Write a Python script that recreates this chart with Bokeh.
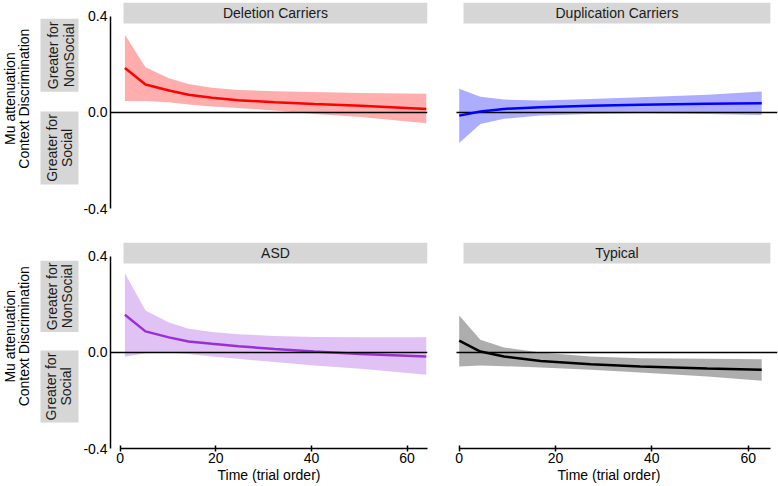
import numpy as np
from bokeh.plotting import figure
from bokeh.layouts import row, column
from bokeh.models import Range1d, FixedTicker, PrintfTickFormatter, Span
from bokeh.core.properties import value
from bokeh.embed import file_html
from bokeh.resources import INLINE

FONT = "Liberation Sans"

# ---------------- data ----------------
panel_titles = ["Deletion Carriers", "Duplication Carriers", "ASD", "Typical"]

del_x = [1, 5.3, 10.2, 14.3, 19.2, 24.7, 32.3, 40.6, 50.3, 64]
del_y = [0.185, 0.117, 0.092, 0.074, 0.061, 0.051, 0.043, 0.035, 0.028, 0.015]
del_hi = [0.324, 0.189, 0.143, 0.119, 0.103, 0.094, 0.089, 0.085, 0.081, 0.078]
del_lo = [0.048, 0.048, 0.043, 0.033, 0.025, 0.019, 0.008, -0.006, -0.019, -0.045]

dup_x = [0, 4.4, 9.3, 16.9, 27.3, 37.6, 51.5, 62.8]
dup_y = [-0.013, 0.004, 0.015, 0.022, 0.028, 0.032, 0.036, 0.039]
dup_hi = [0.099, 0.066, 0.054, 0.050, 0.056, 0.064, 0.074, 0.087]
dup_lo = [-0.127, -0.048, -0.026, -0.013, -0.006, -0.003, -0.006, -0.010]

asd_x = [1, 5.3, 10.2, 14.3, 19.2, 24.7, 32.3, 40.6, 50.3, 64]
asd_y = [0.157, 0.088, 0.063, 0.046, 0.036, 0.026, 0.015, 0.004, -0.006, -0.017]
asd_hi = [0.330, 0.175, 0.125, 0.099, 0.085, 0.076, 0.069, 0.065, 0.064, 0.064]
asd_lo = [-0.018, -0.003, 0.000, -0.006, -0.017, -0.026, -0.040, -0.054, -0.068, -0.093]

typ_x = [0, 4.4, 9.3, 16.9, 27.3, 37.6, 51.5, 62.8]
typ_y = [0.049, 0.004, -0.017, -0.035, -0.049, -0.058, -0.067, -0.072]
typ_hi = [0.154, 0.053, 0.021, 0.000, -0.017, -0.024, -0.026, -0.028]
typ_lo = [-0.058, -0.054, -0.057, -0.063, -0.072, -0.083, -0.100, -0.118]

line_colors = ["#ff0000", "#0000ff", "#9a2fd6", "#000000"]
band_colors = ["#ff0000", "#0000ff", "#a040dd", "#000000"]

y_ticks = [-0.4, 0.0, 0.4]
x_ticks = [0, 20, 40, 60]
y_label_lines = ["Mu attenuation", "Context Discrimination"]
side_top = ["Greater for", "NonSocial"]
side_bottom = ["Greater for", "Social"]
x_label = "Time (trial order)"

# ---------------- layout constants ----------------
Y_TOP = 0.4583
STRIP_BOTTOM = 0.371
LEFT_XR = (-2.01, 64.26)
RIGHT_XR = (-3.88, 66.08)
STRIP_COLOR = "#d6d6d6"


def panel(title, xs, ys, lo, hi, lc, bc, left, bottom, height, strip_x):
    xr = LEFT_XR if left else RIGHT_XR
    p = figure(width=360 if left else 338, height=height,
               x_range=Range1d(*xr), y_range=Range1d(-0.4, Y_TOP),
               output_backend="svg", toolbar_location=None,
               x_axis_location="below" if bottom else None,
               y_axis_location="left" if left else None,
               min_border_left=28 if left else 0,
               min_border_right=13 if left else 1,
               min_border_top=2,
               min_border_bottom=38 if bottom else 32)
    p.outline_line_color = None
    p.grid.visible = False
    p.background_fill_color = "white"
    p.border_fill_color = "white"

    # strip header
    p.quad(left=[strip_x[0]], right=[strip_x[1]], bottom=[STRIP_BOTTOM], top=[Y_TOP],
           fill_color=STRIP_COLOR, line_color=None)
    p.text(x=[(strip_x[0] + strip_x[1]) / 2], y=[(STRIP_BOTTOM + Y_TOP) / 2], text=[title],
           text_align="center", text_baseline="middle",
           text_font=value(FONT), text_font_size="14px", text_color="#1a1a1a")

    # ribbon
    p.varea(x=xs, y1=lo, y2=hi, fill_color=bc, fill_alpha=0.32)
    # zero line
    if left:
        p.add_layout(Span(location=0, dimension="width", line_color="black", line_width=1.5))
    else:
        p.segment(x0=[-0.56], x1=[xr[1]], y0=[0], y1=[0], line_color="black", line_width=1.5)
    # estimate line
    p.line(xs, ys, line_color=lc, line_width=2.5)

    if left:
        ya = p.yaxis[0]
        ya.ticker = FixedTicker(ticks=y_ticks)
        ya.formatter = PrintfTickFormatter(format="%.1f")
        ya.bounds = (-0.4, 0.4)
        ya.axis_line_width = 1.5
        ya.axis_line_color = "black"
        ya.major_tick_out = 0
        ya.major_tick_in = 0
        ya.minor_tick_out = 0
        ya.minor_tick_in = 0
        ya.major_label_standoff = 3
        ya.major_label_text_font = FONT
        ya.major_label_text_font_size = "14px"
        ya.major_label_text_color = "black"
    if bottom:
        xa = p.xaxis[0]
        xa.ticker = FixedTicker(ticks=x_ticks)
        xa.bounds = (0, strip_x[1])
        xa.axis_line_width = 1.5
        xa.axis_line_color = "black"
        xa.major_tick_out = 3
        xa.major_tick_in = 3
        xa.major_tick_line_width = 1.5
        xa.minor_tick_out = 0
        xa.minor_tick_in = 0
        xa.major_label_standoff = 1
        xa.major_label_text_font = FONT
        xa.major_label_text_font_size = "14px"
        xa.major_label_text_color = "black"
        xa.axis_label = x_label
        xa.axis_label_standoff = 1
        xa.axis_label_text_font = FONT
        xa.axis_label_text_font_size = "14px"
        xa.axis_label_text_font_style = "normal"
        xa.axis_label_text_color = "black"
    return p


def label_fig(height, y_bottom, box_top, box_bottom, text_x):
    p = figure(width=80, height=height, x_range=Range1d(0, 80),
               y_range=Range1d(y_bottom, 0.4667),
               output_backend="svg", toolbar_location=None,
               x_axis_location=None, y_axis_location=None,
               min_border_left=0, min_border_right=0, min_border_top=0, min_border_bottom=0)
    p.outline_line_color = None
    p.grid.visible = False
    # y-axis title (two lines)
    for xx, t in zip([9.3, 23.0], y_label_lines):
        p.text(x=[xx], y=[0.0], text=[t], angle=np.pi / 2,
               text_align="center", text_baseline="middle",
               text_font=value(FONT), text_font_size="14px", text_color="black")
    # grey side boxes
    p.quad(left=[40, 40], right=[78, 78], bottom=[box_top[0], box_bottom[0]],
           top=[box_top[1], box_bottom[1]], fill_color=STRIP_COLOR, line_color=None)
    for (b0, b1), lines, xs in [(box_top, side_top, text_x[0]), (box_bottom, side_bottom, text_x[1])]:
        for xx, t in zip(xs, lines):
            p.text(x=[xx], y=[(b0 + b1) / 2], text=[t], angle=np.pi / 2,
                   text_align="center", text_baseline="middle",
                   text_font=value(FONT), text_font_size="14px", text_color="#1a1a1a")
    return p


lab1 = label_fig(240, -0.5333, (0.033, 0.3875), (-0.417, -0.0625),
                 [(52.5, 68.0), (51.0, 66.5)])
lab2 = label_fig(246, -0.5583, (0.021, 0.376), (-0.429, -0.071),
                 [(51.0, 66.5), (50.0, 65.0)])

p1 = panel(panel_titles[0], del_x, del_y, del_lo, del_hi, line_colors[0], band_colors[0],
           True, False, 240, (0.7, 64.26))
p2 = panel(panel_titles[1], dup_x, dup_y, dup_lo, dup_hi, line_colors[1], band_colors[1],
           False, False, 240, (0.9, 64.6))
p3 = panel(panel_titles[2], asd_x, asd_y, asd_lo, asd_hi, line_colors[2], band_colors[2],
           True, True, 246, (0.7, 64.26))
p4 = panel(panel_titles[3], typ_x, typ_y, typ_lo, typ_hi, line_colors[3], band_colors[3],
           False, True, 246, (0.9, 64.6))

layout = column(row(lab1, p1, p2), row(lab2, p3, p4))

open("out.html", "w").write(file_html(layout, INLINE))
